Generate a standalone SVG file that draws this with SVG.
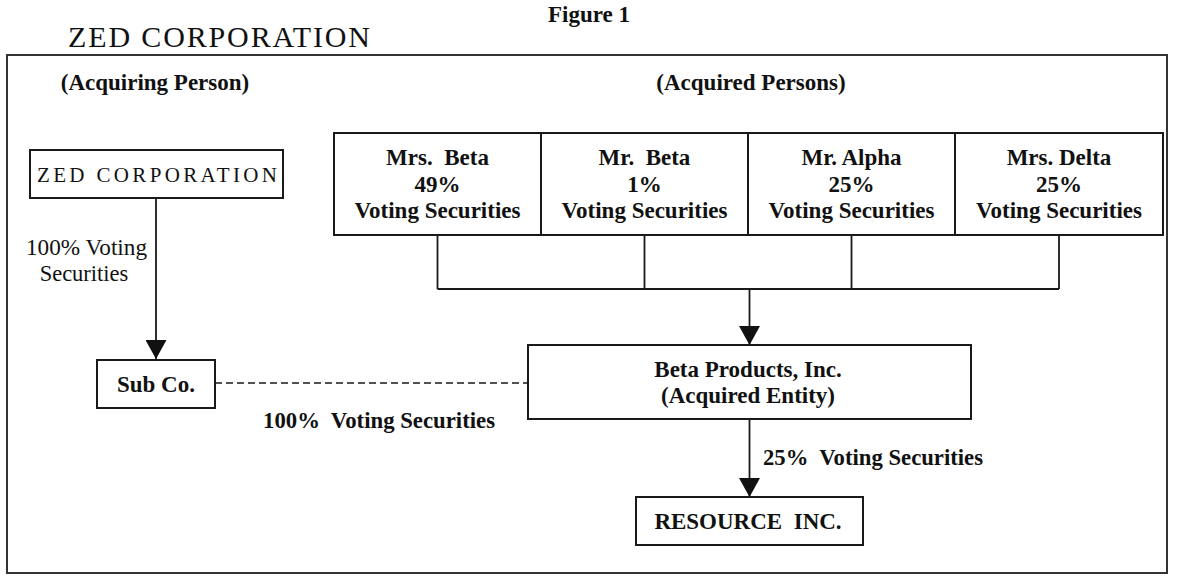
<svg xmlns="http://www.w3.org/2000/svg" width="1180" height="577" viewBox="0 0 1180 577">
<style>
  .box{fill:#fff;stroke:#1a1a1a;stroke-width:2}
  .b{font-family:"Liberation Serif","Times New Roman",serif;font-weight:bold;font-size:23px;fill:#111}
  .r{font-family:"Liberation Serif","Times New Roman",serif;font-size:22.5px;fill:#111}
  .c{text-anchor:middle}
  .ln{fill:none;stroke:#1a1a1a;stroke-width:1.8}
  .dash{fill:none;stroke:#1a1a1a;stroke-width:1.6;stroke-dasharray:7 4}
</style>
<defs>
  <marker id="arr" markerUnits="userSpaceOnUse" markerWidth="19" markerHeight="21" viewBox="0 0 19 21" refX="19" refY="10.5" orient="auto">
    <path d="M0,0 L19,10.5 L0,21 Z" fill="#111"/>
  </marker>
</defs>
<rect width="1180" height="577" fill="#fff"/>

<g id="header">
  <text class="b c" x="589" y="22">Figure 1</text>
  <text class="r" x="68" y="47" style="font-size:30px" textLength="302" lengthAdjust="spacing">ZED CORPORATION</text>
  <rect id="frame" x="7" y="55" width="1160" height="518" fill="none" stroke="#333" stroke-width="2"/>
  <text class="b c" x="155" y="90">(Acquiring Person)</text>
  <text class="b c" x="751" y="90">(Acquired Persons)</text>
</g>

<g id="connectors">
  <line class="ln" x1="156" y1="198" x2="156" y2="359" marker-end="url(#arr)"/>
  <path class="ln" d="M437.5,235 V289 M644.5,235 V289 M851.5,235 V289 M1059,235 V289 M437.5,289 H1059"/>
  <line class="ln" x1="749.5" y1="289" x2="749.5" y2="345" marker-end="url(#arr)"/>
  <line class="ln" x1="749.5" y1="419" x2="749.5" y2="497" marker-end="url(#arr)"/>
  <line class="dash" x1="215" y1="383" x2="528" y2="383"/>
  <text class="r" x="26" y="255" textLength="121" lengthAdjust="spacingAndGlyphs">100% Voting</text>
  <text class="r c" x="84" y="281">Securities</text>
  <text class="b" x="263" y="428" xml:space="preserve" textLength="232" lengthAdjust="spacingAndGlyphs">100%  Voting Securities</text>
  <text class="b" x="763" y="465" xml:space="preserve" textLength="220" lengthAdjust="spacingAndGlyphs">25%  Voting Securities</text>
</g>

<g id="zed">
  <rect class="box" x="30" y="150" width="253" height="48"/>
  <text class="r" x="37" y="182" style="font-size:21px" textLength="240" lengthAdjust="spacing">ZED CORPORATION</text>
</g>

<g id="subco">
  <rect class="box" x="97" y="360" width="118" height="48"/>
  <text class="b c" x="156" y="392">Sub Co.</text>
</g>

<g id="mrs-beta">
  <rect class="box" x="334" y="133" width="207" height="102"/>
  <text class="b c" x="437.5" y="165" xml:space="preserve">Mrs.  Beta</text>
  <text class="b c" x="437.5" y="192">49%</text>
  <text class="b c" x="437.5" y="218">Voting Securities</text>
</g>

<g id="mr-beta">
  <rect class="box" x="541" y="133" width="207" height="102"/>
  <text class="b c" x="644.5" y="165" xml:space="preserve">Mr.  Beta</text>
  <text class="b c" x="644.5" y="192">1%</text>
  <text class="b c" x="644.5" y="218">Voting Securities</text>
</g>

<g id="mr-alpha">
  <rect class="box" x="748" y="133" width="207" height="102"/>
  <text class="b c" x="851.5" y="165">Mr. Alpha</text>
  <text class="b c" x="851.5" y="192">25%</text>
  <text class="b c" x="851.5" y="218">Voting Securities</text>
</g>

<g id="mrs-delta">
  <rect class="box" x="955" y="133" width="208" height="102"/>
  <text class="b c" x="1059" y="165">Mrs. Delta</text>
  <text class="b c" x="1059" y="192">25%</text>
  <text class="b c" x="1059" y="218">Voting Securities</text>
</g>

<g id="beta-products">
  <rect class="box" x="528" y="345" width="443" height="74"/>
  <text class="b c" x="748" y="377">Beta Products, Inc.</text>
  <text class="b c" x="748" y="403">(Acquired Entity)</text>
</g>

<g id="resource">
  <rect class="box" x="636" y="497" width="227" height="48"/>
  <text class="b c" x="748" y="529" xml:space="preserve">RESOURCE  INC.</text>
</g>
</svg>
